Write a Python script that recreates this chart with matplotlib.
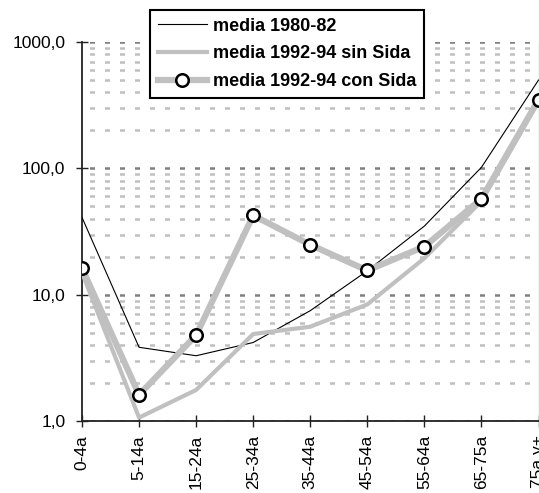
import matplotlib

matplotlib.use("Agg")
import matplotlib.pyplot as plt
from matplotlib.ticker import FixedLocator, FuncFormatter, NullFormatter

plt.rcParams["font.family"] = ["Liberation Sans", "DejaVu Sans"]

GRAY = "#c0c0c0"
DARK_GRAY = "#808080"

# age groups and rates (log scale)
ages = ["0-4a", "5-14a", "15-24a", "25-34a", "35-44a", "45-54a", "55-64a", "65-75a", "75a y+"]
media_8082 = [41, 3.85, 3.3, 4.2, 7.5, 15.5, 35, 102, 500]
media_9294_sin = [15, 1.07, 1.77, 4.9, 5.6, 8.4, 19.5, 55, 340]
media_9294_con = [16.3, 1.62, 4.8, 42.5, 24.9, 15.6, 24.1, 57.5, 350]

labels = ["media 1980-82", "media 1992-94 sin Sida", "media 1992-94 con Sida"]


def fmt_comma(v, pos):
    return f"{v:.1f}".replace(".", ",")


fig = plt.figure(figsize=(5.39, 4.93), dpi=100)
ax = fig.add_axes([82 / 539, 71.7 / 493, 456.5 / 539, 379.3 / 493])

x = list(range(len(ages)))
ax.plot(x, media_8082, color="black", lw=0.8, label=labels[0], zorder=3)
ax.plot(x, media_9294_sin, color=GRAY, lw=3, label=labels[1], zorder=4)
ax.plot(
    x,
    media_9294_con,
    color=GRAY,
    lw=4.5,
    marker="o",
    ms=9,
    mfc="white",
    mec="black",
    mew=1.8,
    label=labels[2],
    zorder=5,
)

ax.set_yscale("log")
ax.set_ylim(1, 1000)
ax.set_xlim(0, len(ages) - 1)

ax.yaxis.set_major_locator(FixedLocator([1, 10, 100, 1000]))
ax.yaxis.set_major_formatter(FuncFormatter(fmt_comma))
minors = [m * 10**e for e in range(0, 3) for m in range(2, 10)]
ax.yaxis.set_minor_locator(FixedLocator(minors))
ax.yaxis.set_minor_formatter(NullFormatter())

ax.set_xticks(x)
ax.set_xticklabels(ages, rotation=90, va="top", ha="center")

ax.grid(axis="y", which="major", color=DARK_GRAY, lw=1.8, ls=(3, (2, 4)), zorder=1)
ax.grid(axis="y", which="minor", color=GRAY, lw=1.8, ls=(3, (2, 4)), zorder=1)

ax.tick_params(axis="both", which="major", direction="inout", length=8, width=1,
               color="#222222", labelsize=12.5)
ax.tick_params(axis="y", which="major", pad=8)
ax.tick_params(axis="x", which="major", pad=6)
ax.tick_params(axis="y", which="minor", length=0)

ax.spines["top"].set_visible(False)
for side in ["left", "bottom", "right"]:
    ax.spines[side].set_color("#222222")
    ax.spines[side].set_linewidth(1.3)
ax.spines["right"].set_color("#404040")
ax.spines["right"].set_linewidth(0.8)

leg = fig.legend(
    loc="upper left",
    bbox_to_anchor=(150 / 539, 1 - 10 / 493),
    bbox_transform=fig.transFigure,
    prop={"weight": "bold", "size": 13},
    frameon=True,
    fancybox=False,
    framealpha=1,
    edgecolor="black",
    handlelength=2.75,
    handletextpad=0.3,
    borderpad=0.42,
    labelspacing=0.6,
    borderaxespad=0,
    numpoints=1,
)
leg.get_frame().set_linewidth(1.5)
leg.set_zorder(10)

fig.savefig("out.png", dpi=100)
